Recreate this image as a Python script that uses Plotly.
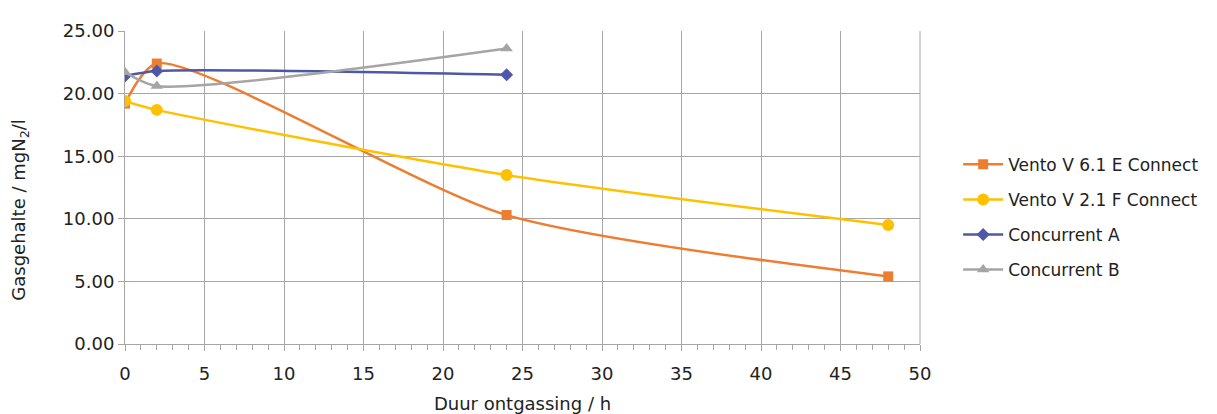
import plotly.graph_objects as go

x_vento61 = [0, 2, 24, 48]
y_vento61 = [19.2, 22.4, 10.3, 5.4]
x_vento21 = [0, 2, 24, 48]
y_vento21 = [19.4, 18.7, 13.5, 9.5]
x_concA = [0, 2, 24]
y_concA = [21.4, 21.8, 21.5]
x_concB = [0, 2, 24]
y_concB = [21.7, 20.6, 23.6]

series = [
    ("Vento V 6.1 E Connect", x_vento61, y_vento61, "#ED7D31", "square", 10),
    ("Vento V 2.1 F Connect", x_vento21, y_vento21, "#FFC000", "circle", 12),
    ("Concurrent A", x_concA, y_concA, "#4F58A6", "diamond", 10),
    ("Concurrent B", x_concB, y_concB, "#A5A5A5", "triangle-up", 11),
]

fig = go.Figure()
for i, (name, xs, ys, col, sym, sz) in enumerate(series):
    fig.add_trace(go.Scatter(
        x=xs, y=ys, name=name, mode="lines+markers", legendgroup=f"g{i}",
        line=dict(color=col, width=2.5, shape="spline", smoothing=0.7),
        marker=dict(color=col, symbol=sym, size=sz),
    ))

font = "DejaVu Sans, sans-serif"
fig.update_layout(
    width=1217, height=414,
    margin=dict(l=117, r=305, t=14, b=76),
    paper_bgcolor="white", plot_bgcolor="white",
    font=dict(family=font, color="#222222", size=16),
    legend=dict(x=1.048, y=0.405, yanchor="middle", xanchor="left",
                font=dict(size=17), itemwidth=40, tracegroupgap=10),
    showlegend=True,
)
fig.update_xaxes(
    range=[0, 50], tick0=0, dtick=5, showgrid=True, gridcolor="#A6A6A6", gridwidth=1,
    showline=True, linecolor="#A6A6A6", ticks="outside", ticklen=6, tickcolor="#A6A6A6",
    minor=dict(dtick=1, ticks="outside", ticklen=5, tickcolor="#A6A6A6", showgrid=False),
    zeroline=False, mirror=False, ticklabelstandoff=7,
    title=dict(text="Duur ontgassing / h", font=dict(size=18), standoff=14),
    tickfont=dict(size=18),
)
fig.update_yaxes(
    range=[0, 25], tick0=0, dtick=5, tickformat=".2f", showgrid=True, gridcolor="#A6A6A6",
    gridwidth=1, showline=True, linecolor="#A6A6A6", ticks="outside", ticklen=6,
    tickcolor="#A6A6A6", zeroline=False,
    tickfont=dict(size=18),
)
fig.add_annotation(
    text="Gasgehalte / mgN<sub>2</sub>/l", textangle=-90, showarrow=False,
    xref="paper", yref="paper", x=-0.132, y=0.426, xanchor="center", yanchor="middle",
    font=dict(size=18, family=font, color="#222222"),
)
fig.add_shape(type="line", xref="paper", yref="paper", x0=1, x1=1, y0=0, y1=1,
              line=dict(color="#A6A6A6", width=1))
fig.write_html("out.html")
